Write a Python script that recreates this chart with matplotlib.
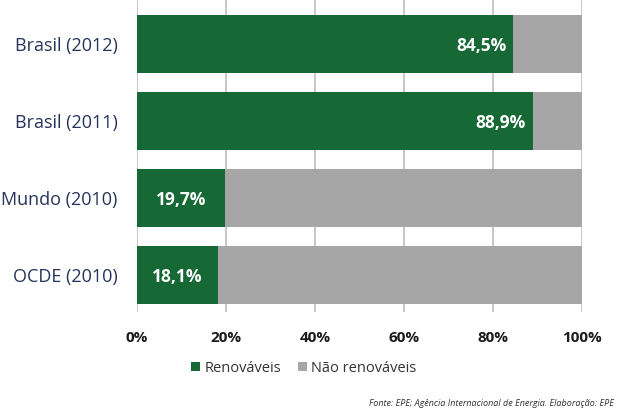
import numpy as np
from matplotlib import pyplot as plt

categories = ["Brasil (2012)", "Brasil (2011)", "Mundo (2010)", "OCDE (2010)"]
renovaveis = [84.5, 88.9, 19.7, 18.1]
nao_renovaveis = [100 - v for v in renovaveis]
value_labels = ["84,5%", "88,9%", "19,7%", "18,1%"]
x_ticks = [0, 20, 40, 60, 80, 100]

green = "#166835"
gray = "#a6a6a6"
navy = "#26345a"

plt.rcParams['font.family'] = ['Open Sans', 'DejaVu Sans']

fig = plt.figure(figsize=(6.23, 4.12), dpi=100)
ax = fig.add_axes([137 / 623, 1 - 312 / 412, 445 / 623, 312 / 412])

y = np.arange(len(categories))
ax.barh(y, renovaveis, height=0.76, color=green, label="Renováveis", zorder=3)
ax.barh(y, nao_renovaveis, left=renovaveis, height=0.76, color=gray,
        label="Não renováveis", zorder=3)

for i, (v, lab) in enumerate(zip(renovaveis, value_labels)):
    if v > 50:
        ax.text(v - 1.5, i + 0.02, lab, ha="right", va="center", color="white",
                fontsize=12.5, fontweight="bold", zorder=4)
    else:
        ax.text(v / 2, i + 0.02, lab, ha="center", va="center", color="white",
                fontsize=12.5, fontweight="bold", zorder=4)

ax.set_xlim(0, 100)
ax.set_ylim(3 + 37 / 77, -44 / 77)
ax.set_yticks(y)
ax.set_yticklabels(categories, fontsize=13, color=navy)
ax.set_xticks(x_ticks)
ax.set_xticklabels([f"{t}%" for t in x_ticks], fontsize=11, fontweight="bold",
                   color="#1a1a1a")
ax.tick_params(axis="y", length=0, pad=14)
ax.tick_params(axis="x", length=0, pad=14)
ax.grid(axis="x", color="#bdbdbd", linewidth=1.2, zorder=0)
for s in ax.spines.values():
    s.set_visible(False)

ax.legend(loc="upper center", bbox_to_anchor=(0.375, -0.115), ncol=2, frameon=False,
          fontsize=10.5, handlelength=0.6, handleheight=0.6, handletextpad=0.3,
          columnspacing=1.2, labelcolor="#333333")

fig.text(614 / 623, 1 - 403 / 412, "Fonte: EPE; Agência Internacional de Energia. Elaboração: EPE",
         ha="right", va="center", fontsize=6.5, style="italic", color="#333333")

fig.savefig("out.png", dpi=100)
